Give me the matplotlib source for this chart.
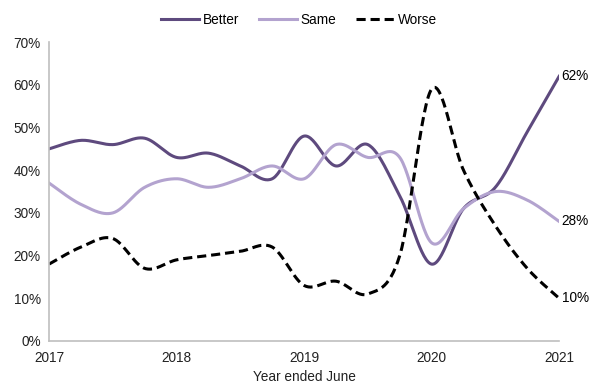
import numpy as np
import matplotlib.pyplot as plt

plt.rcParams['font.family'] = ['Liberation Sans', 'DejaVu Sans']

# quarterly survey readings, year ended June
years = [2017, 2017.25, 2017.5, 2017.75, 2018, 2018.25, 2018.5, 2018.75, 2019,
         2019.25, 2019.5, 2019.75, 2020, 2020.25, 2020.5, 2020.75, 2021]
better = [45, 47, 46, 47.5, 43, 44, 41, 38, 48, 41, 46, 34, 18, 31, 36, 49, 62]
same = [37, 32, 30, 36, 38, 36, 38, 41, 38, 46, 43, 43, 23, 31, 35, 33, 28]
worse = [18, 22, 24, 17, 19, 20, 21, 22, 13, 14, 11, 20, 59, 40, 27, 17, 10]


def smooth(x, y, n=30):
    # catmull-rom style bezier between points, like a spreadsheet "smoothed line"
    x = np.asarray(x, float)
    y = np.asarray(y, float)
    px = np.concatenate([[x[0]], x, [x[-1]]])
    py = np.concatenate([[y[0]], y, [y[-1]]])
    xs, ys = [], []
    t = np.linspace(0, 1, n)
    for i in range(1, len(px) - 2):
        p0 = np.array([px[i], py[i]])
        p3 = np.array([px[i + 1], py[i + 1]])
        c1 = p0 + (np.array([px[i + 1], py[i + 1]]) - np.array([px[i - 1], py[i - 1]])) / 6
        c2 = p3 - (np.array([px[i + 2], py[i + 2]]) - np.array([px[i], py[i]])) / 6
        b = ((1 - t) ** 3)[:, None] * p0 + (3 * (1 - t) ** 2 * t)[:, None] * c1 \
            + (3 * (1 - t) * t ** 2)[:, None] * c2 + (t ** 3)[:, None] * p3
        xs.extend(b[:, 0])
        ys.extend(b[:, 1])
    return np.array(xs), np.array(ys)


fig = plt.figure(figsize=(5.98, 3.87), dpi=100)
ax = fig.add_axes([0.082, 0.119, 0.853, 0.772])

sx, sy = smooth(years, better)
ax.plot(sx, sy, color='#5e4a7e', lw=2.2, label='Better')
sx, sy = smooth(years, same)
ax.plot(sx, sy, color='#b3a3cf', lw=2.2, label='Same')
sx, sy = smooth(years, worse)
ax.plot(sx, sy, color='black', lw=2.2, ls=(0, (3, 1.6)), label='Worse')

for v in [better[-1], same[-1], worse[-1]]:
    ax.text(years[-1] + 0.02, v, f'{v:.0f}%', fontsize=9.8, va='center', ha='left')

ax.set_xlim(2017, 2021)
ax.set_ylim(0, 70)
ax.set_xticks([2017, 2018, 2019, 2020, 2021])
ax.set_yticks(range(0, 71, 10))
ax.set_yticklabels([f'{v}%' for v in range(0, 71, 10)])
ax.tick_params(length=0, labelsize=9.8, colors='#222222')
ax.tick_params(axis='y', pad=6)
ax.tick_params(axis='x', pad=7)
for s in ['top', 'right']:
    ax.spines[s].set_visible(False)
for s in ['left', 'bottom']:
    ax.spines[s].set_color('#bfbfbf')
    ax.spines[s].set_linewidth(1.2)
ax.set_xlabel('Year ended June', fontsize=9.8, color='#222222', labelpad=4)

fig.legend(loc='upper center', bbox_to_anchor=(0.5, 0.998), ncol=3, frameon=False,
           fontsize=9.8, handlelength=2.8, columnspacing=1.4, handletextpad=0.3)

fig.savefig('out.png', dpi=100)
